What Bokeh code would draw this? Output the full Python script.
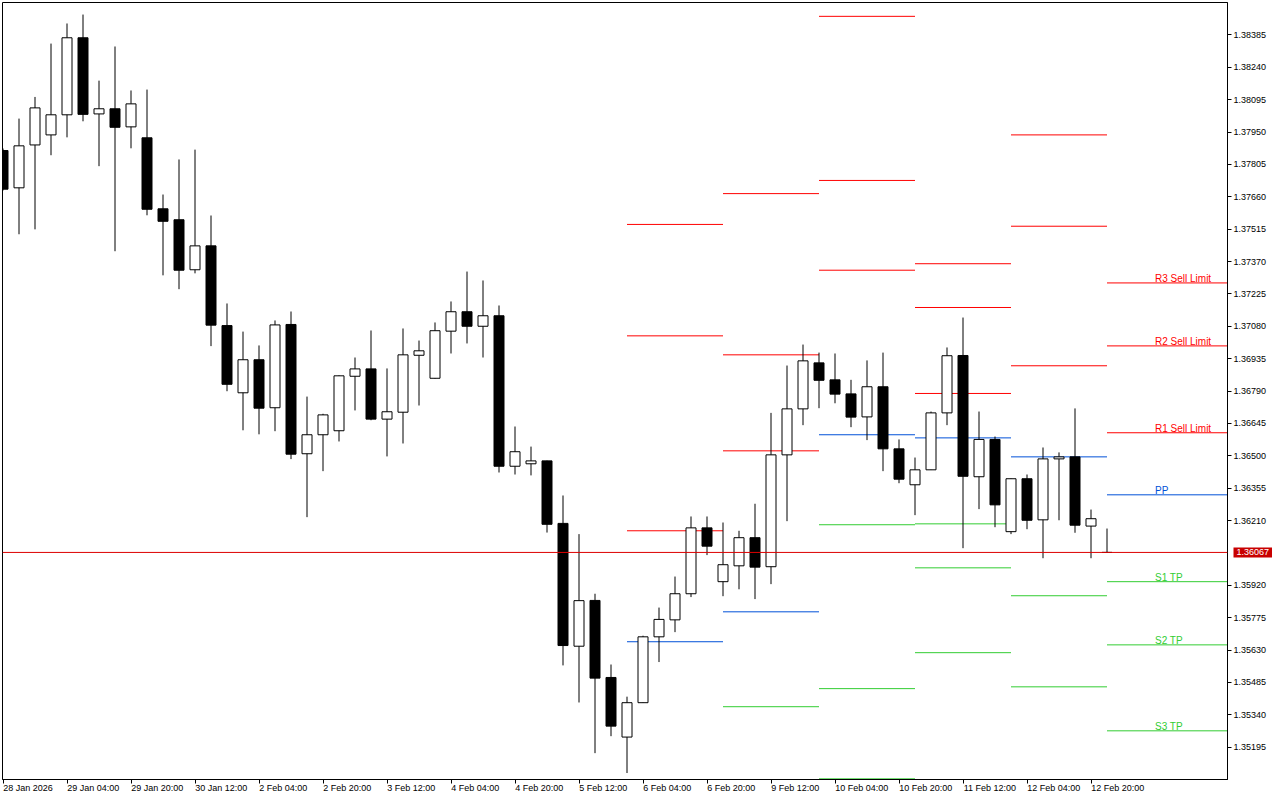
import math
from bokeh.plotting import figure
from bokeh.models import (Range1d, FixedTicker, PrintfTickFormatter, Span, Label, LinearAxis)
from bokeh.embed import file_html
from bokeh.resources import INLINE

# ---------------- data (H4 candles) ----------------
opens = [1.37867, 1.37700, 1.37892, 1.37937, 1.38027, 1.38372, 1.38031, 1.38054, 1.37973, 1.37924,
         1.37606, 1.37557, 1.37333, 1.37440, 1.37083, 1.36782, 1.36930, 1.36715, 1.37088, 1.36509,
         1.36594, 1.36612, 1.36856, 1.36889, 1.36664, 1.36695, 1.36950, 1.36847, 1.37058, 1.37145,
         1.37080, 1.37127, 1.36453, 1.36464, 1.36477, 1.36197, 1.35647, 1.35852, 1.35507, 1.35240,
         1.35394, 1.35689, 1.35765, 1.35882, 1.36177, 1.35936, 1.36007, 1.36133, 1.36003, 1.36504,
         1.36710, 1.36916, 1.36840, 1.36777, 1.36674, 1.36809, 1.36531, 1.36370, 1.36437, 1.36692,
         1.36949, 1.36406, 1.36573, 1.36160, 1.36397, 1.36213, 1.36486, 1.36495, 1.36185, 1.36067]
highs = [1.37876, 1.38010, 1.38107, 1.38346, 1.38436, 1.38476, 1.38180, 1.38333, 1.38136, 1.38140,
         1.37670, 1.37827, 1.37871, 1.37576, 1.37182, 1.37056, 1.36994, 1.37106, 1.37146, 1.36765,
         1.36688, 1.36860, 1.36940, 1.37061, 1.36891, 1.37070, 1.37016, 1.37097, 1.37191, 1.37325,
         1.37285, 1.37173, 1.36631, 1.36541, 1.36478, 1.36322, 1.36149, 1.35882, 1.35565, 1.35421,
         1.35694, 1.35820, 1.35959, 1.36228, 1.36228, 1.36201, 1.36164, 1.36285, 1.36692, 1.36904,
         1.36998, 1.36962, 1.36958, 1.36840, 1.36927, 1.36962, 1.36573, 1.36492, 1.36698, 1.36985,
         1.37119, 1.36698, 1.36586, 1.36398, 1.36416, 1.36537, 1.36515, 1.36712, 1.36259, 1.36174]
lows = [1.37688, 1.37492, 1.37514, 1.37846, 1.37926, 1.37998, 1.37797, 1.37416, 1.37877, 1.37577,
        1.37308, 1.37246, 1.37317, 1.36991, 1.36789, 1.36614, 1.36596, 1.36610, 1.36485, 1.36225,
        1.36431, 1.36564, 1.36703, 1.36659, 1.36497, 1.36555, 1.36725, 1.36845, 1.36958, 1.37003,
        1.36940, 1.36425, 1.36416, 1.36412, 1.36156, 1.35561, 1.35395, 1.35168, 1.35244, 1.35079,
        1.35393, 1.35576, 1.35710, 1.35867, 1.36055, 1.35871, 1.35902, 1.35858, 1.35925, 1.36207,
        1.36637, 1.36713, 1.36735, 1.36628, 1.36570, 1.36431, 1.36377, 1.36234, 1.36436, 1.36637,
        1.36086, 1.36261, 1.36180, 1.36149, 1.36171, 1.36041, 1.36211, 1.36155, 1.36041, 1.36067]
closes = [1.37694, 1.37888, 1.38058, 1.38027, 1.38372, 1.38029, 1.38054, 1.37971, 1.38076, 1.37604,
          1.37550, 1.37331, 1.37440, 1.37085, 1.36820, 1.36930, 1.36713, 1.37086, 1.36507, 1.36594,
          1.36683, 1.36858, 1.36889, 1.36664, 1.36697, 1.36952, 1.36970, 1.37060, 1.37145, 1.37080,
          1.37127, 1.36453, 1.36518, 1.36477, 1.36193, 1.35650, 1.35851, 1.35504, 1.35289, 1.35394,
          1.35689, 1.35767, 1.35882, 1.36177, 1.36095, 1.36012, 1.36133, 1.36001, 1.36504, 1.36710,
          1.36925, 1.36838, 1.36776, 1.36673, 1.36809, 1.36531, 1.36395, 1.36437, 1.36692, 1.36948,
          1.36408, 1.36573, 1.36280, 1.36397, 1.36211, 1.36486, 1.36495, 1.36189, 1.36218, 1.36067]

time_tick_bars = [0, 4, 8, 12, 16, 20, 24, 28, 32, 36, 40, 44, 48, 52, 56, 60, 64, 68]
time_tick_labels = ["28 Jan 2026", "29 Jan 04:00", "29 Jan 20:00", "30 Jan 12:00", "2 Feb 04:00",
                    "2 Feb 20:00", "3 Feb 12:00", "4 Feb 04:00", "4 Feb 20:00", "5 Feb 12:00",
                    "6 Feb 04:00", "6 Feb 20:00", "9 Feb 12:00", "10 Feb 04:00", "10 Feb 20:00",
                    "11 Feb 12:00", "12 Feb 04:00", "12 Feb 20:00"]

price_ticks = [1.38385, 1.38240, 1.38095, 1.37950, 1.37805, 1.37660, 1.37515, 1.37370, 1.37225,
               1.37080, 1.36935, 1.36790, 1.36645, 1.36500, 1.36355, 1.36210, 1.35920, 1.35775,
               1.35630, 1.35485, 1.35340, 1.35195]

NAN = float("nan")
pivot_day_start = [39, 45, 51, 57, 63, 69]   # first bar of each trading day
pivot_r3 = [1.37536, 1.37674, 1.38468, 1.37360, 1.37937, 1.37274]
pivot_r2 = [1.37037, 1.36952, 1.37733, 1.37164, 1.37528, 1.36992]
pivot_r1 = [1.36164, 1.36522, 1.37331, 1.36779, 1.36903, 1.36603]
pivot_pp = [1.35667, 1.35801, 1.36594, 1.36580, 1.36495, 1.36325]
pivot_s1 = [NAN, 1.35376, 1.36191, 1.36195, 1.35873, 1.35936]
pivot_s2 = [NAN, NAN, 1.35457, 1.35998, 1.35465, 1.35653]
pivot_s3 = [NAN, NAN, 1.35053, 1.35618, NAN, 1.35268]
pivot_names = ["R3 Sell Limit", "R2 Sell Limit", "R1 Sell Limit", "PP", "S1 TP", "S2 TP", "S3 TP"]

bid_price = closes[-1]

# ---------------- layout constants ----------------
BAR_PX = 16
FRAME_W, FRAME_H = 1225, 777
x_start = -0.5 / BAR_PX
x_end = x_start + FRAME_W / BAR_PX
y_top, y_bottom = 1.38530, 1.35050

RED = "#FF0000"
BLUE = "#0050D8"
GREEN = "#32CD32"
FONT = "Liberation Sans"
AXIS_PX = 9

# Liberation Sans advance widths (per 1000 em) used to left-align the time labels at their ticks
ADV = {" ": 278, ":": 278, ".": 278, "J": 500, "F": 611, "a": 556, "n": 556, "e": 556, "b": 556}
def text_px(s, size):
    return sum(ADV.get(ch, 556) for ch in s) * size / 1000.0

label_centers = [b + (text_px(t, AXIS_PX) / 2.0 + 0.3) / BAR_PX
                 for b, t in zip(time_tick_bars, time_tick_labels)]

p = figure(x_range=Range1d(x_start, x_end), y_range=Range1d(y_bottom, y_top),
           frame_width=FRAME_W, frame_height=FRAME_H, y_axis_location="right",
           output_backend="svg", toolbar_location=None,
           min_border_left=2, min_border_top=2, min_border_right=45, min_border_bottom=16,
           background_fill_color="white", border_fill_color="white",
           outline_line_color="black", outline_line_width=1)
p.grid.grid_line_color = None

# x axis: small tick marks at the bars (minor), labels centred so they start at the tick
xa = p.xaxis[0]
xa.ticker = FixedTicker(ticks=label_centers, minor_ticks=time_tick_bars)
xa.major_label_overrides = {c: t for c, t in zip(label_centers, time_tick_labels)}
xa.major_tick_out = 0
xa.major_tick_in = 0
xa.major_tick_line_color = None
xa.minor_tick_out = 4
xa.minor_tick_in = 0
xa.minor_tick_line_color = "black"
xa.major_label_standoff = -1
xa.major_label_text_font = FONT
xa.major_label_text_font_size = "%dpx" % AXIS_PX
xa.major_label_text_color = "black"
xa.axis_line_color = "black"

ya = p.yaxis[0]
ya.ticker = FixedTicker(ticks=price_ticks)
ya.formatter = PrintfTickFormatter(format="%.5f")
ya.major_tick_out = 4
ya.major_tick_in = 0
ya.minor_tick_out = 0
ya.minor_tick_in = 0
ya.major_label_standoff = 2
ya.major_label_text_font = FONT
ya.major_label_text_font_size = "%dpx" % AXIS_PX
ya.major_label_text_color = "black"
ya.axis_line_color = "black"

# bid price box: an outer axis whose single (inward) tick is drawn as a thick red bar
main_axis_w = math.ceil(4 + 2 + text_px("1.38385", AXIS_PX))
box_in = main_axis_w - 3
box_out = 3
bid_axis = LinearAxis(ticker=FixedTicker(ticks=[bid_price], minor_ticks=[]),
                      formatter=PrintfTickFormatter(format="%.5f"))
bid_axis.axis_line_color = None
bid_axis.major_tick_in = box_in
bid_axis.major_tick_out = box_out
bid_axis.major_tick_line_width = 10
bid_axis.major_tick_line_color = "#C80000"
bid_axis.major_tick_line_cap = "butt"
bid_axis.minor_tick_out = 0
bid_axis.minor_tick_in = 0
bid_axis.major_label_standoff = -(box_in + box_out) + 3 - box_out + box_out
bid_axis.major_label_standoff = -(box_in + box_out) + 3 + 0
bid_axis.major_label_text_font = FONT
bid_axis.major_label_text_font_size = "%dpx" % AXIS_PX
bid_axis.major_label_text_color = "white"
p.add_layout(bid_axis, "right")

# ---------------- pivot levels ----------------
day_end = pivot_day_start[1:] + [x_end]
level_sets = [(pivot_r3, RED), (pivot_r2, RED), (pivot_r1, RED), (pivot_pp, BLUE),
              (pivot_s1, GREEN), (pivot_s2, GREEN), (pivot_s3, GREEN)]
for vals, col in level_sets:
    p.segment(x0=pivot_day_start, x1=day_end, y0=vals, y1=vals, line_color=col, line_width=1)

label_bar = 72
for (vals, col), name in zip(level_sets, pivot_names):
    p.add_layout(Label(x=label_bar, y=vals[-1], text=name, text_color=col,
                       text_font=FONT, text_font_size="10px", text_baseline="alphabetic",
                       text_align="left", y_offset=4))

# ---------------- bid line ----------------
p.add_layout(Span(location=bid_price, dimension="width", line_color="#DD0000", line_width=1))

# ---------------- candles ----------------
bars = list(range(len(opens)))
tops = [max(o, c) for o, c in zip(opens, closes)]
bottoms = [min(o, c) for o, c in zip(opens, closes)]
fills = ["white" if c >= o else "black" for o, c in zip(opens, closes)]
p.segment(x0=bars, x1=bars, y0=lows, y1=highs, line_color="black", line_width=1)
p.vbar(x=bars, width=10 / BAR_PX, top=tops, bottom=bottoms, fill_color=fills,
       line_color="black", line_width=1)

open("out.html", "w").write(file_html(p, INLINE))
